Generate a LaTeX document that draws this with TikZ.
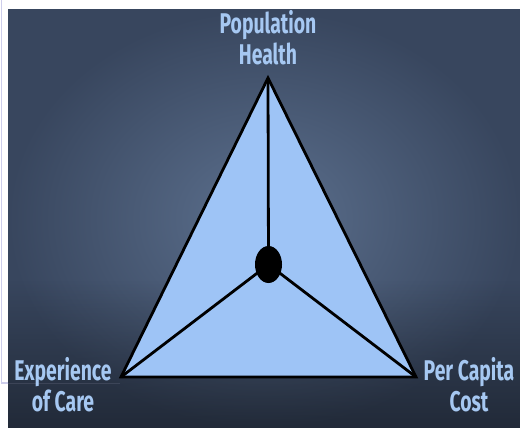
\documentclass[tikz,border=0pt]{standalone}
\usepackage{fontspec}
\usetikzlibrary{shapes.geometric,fadings}
\setmainfont{Fira Sans}[FakeStretch=0.68]
\definecolor{bgin}{RGB}{92,112,142}
\definecolor{bgout}{RGB}{56,70,94}
\definecolor{trifill}{RGB}{158,196,246}
\definecolor{labelblue}{RGB}{166,200,242}
\definecolor{lav}{RGB}{205,205,235}
\tikzfading[name=darkbottom, top color=transparent!100, bottom color=transparent!0]
\tikzset{
  lbl/.style={text=labelblue, font=\fontsize{28.5}{31.5}\selectfont\bfseries, align=center, inner sep=0pt},
  edge/.style={draw=black, line width=2.8pt, line join=miter},
  spoke/.style={draw=black, line width=2.8pt}
}
\begin{document}
\begin{tikzpicture}[x=1pt,y=-1pt]
\useasboundingbox (0,0) rectangle (520,428);
\fill[white] (0,0) rectangle (520,428);
\draw[lav, line width=1.2pt] (1.5,0) -- (1.5,383) -- (8,383);
\shade[inner color=bgin, outer color=bgout] (8,10) rectangle (520,428);
\fill[black, opacity=0.4, path fading=darkbottom] (8,280) rectangle (520,428);
\draw[lav, opacity=0.12, line width=1pt] (8,383) -- (120,383);
\coordinate (top) at (268,78);
\coordinate (left) at (121,377);
\coordinate (right) at (416,377);
\filldraw[trifill, edge] (top) -- (left) -- (right) -- cycle;
\node[ellipse, fill=black, minimum width=27pt, minimum height=37pt, inner sep=0pt] (c) at (268.5,264.5) {};
\draw[spoke] (c.center) -- (top);
\draw[spoke] (c.center) -- (left);
\draw[spoke] (c.center) -- (right);
\node[lbl, anchor=north] (ph) at (268,10) {Population\\Health};
\node[lbl, anchor=north] (ec) at (63,357) {Experience\\of Care};
\node[lbl, anchor=north] (pc) at (469,357) {Per Capita\\Cost};
\end{tikzpicture}
\end{document}
